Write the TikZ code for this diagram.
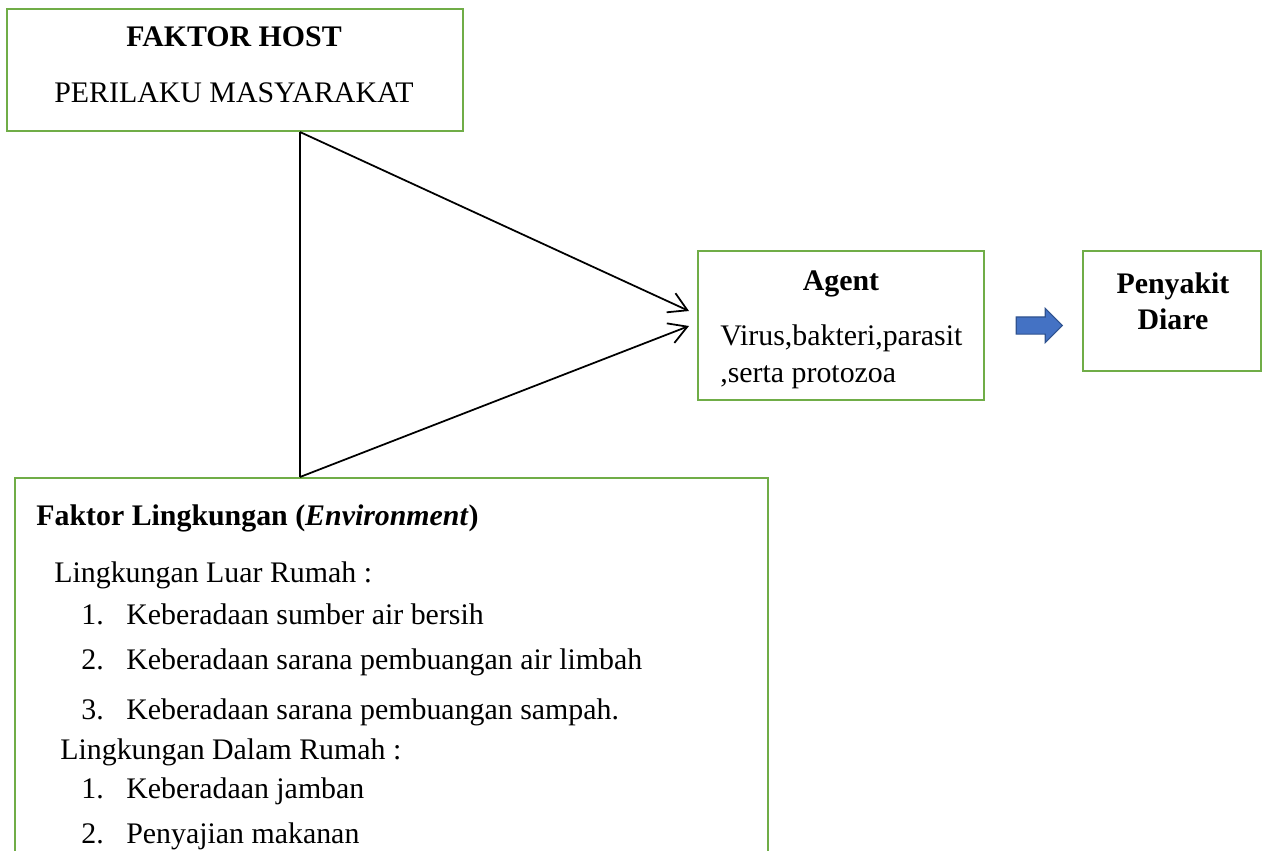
\documentclass[tikz,border=0pt]{standalone}
\usepackage{fontspec}
\setmainfont{Liberation Serif}
\usetikzlibrary{arrows.meta,positioning,shapes.arrows}
\definecolor{boxgreen}{RGB}{112,173,71}
\definecolor{arrowblue}{RGB}{68,114,196}
\definecolor{arrowedge}{RGB}{47,82,143}

\begin{document}
\begin{tikzpicture}[
    x=0.02cm, y=-0.02cm,
    box/.style={draw=boxgreen, line width=1.4pt, inner sep=0pt},
    txt/.style={anchor=base, inner sep=0pt, font=\fontsize{17}{20}\selectfont},
    btxt/.style={txt, font=\fontsize{17}{20}\selectfont\bfseries},
    ltxt/.style={txt, anchor=base west},
    link/.style={line width=1pt},
    >={Straight Barb[length=0.36cm,width=0.42cm]}
  ]
  \useasboundingbox (0,0) rectangle (1262,850);
  \clip (0,0) rectangle (1262,850);

  % boxes
  \node[box, minimum width=9.12cm, minimum height=2.44cm] (host) at (235,70) {};
  \node[box, minimum width=5.72cm, minimum height=2.98cm] (agent) at (841,325.5) {};
  \node[box, minimum width=3.56cm, minimum height=2.4cm] (diare) at (1172,311) {};
  \node[box, minimum width=15.06cm, minimum height=8.6cm] (env) at (391.5,693) {};

  % host
  \node[btxt] (hosttitle) at (234,46) {FAKTOR HOST};
  \node[txt] (hostsub) at (234,102) {PERILAKU MASYARAKAT};

  % agent
  \node[btxt] (agenttitle) at (841,290) {Agent};
  \node[ltxt] (agent1) at (720,345) {Virus,bakteri,parasit};
  \node[ltxt] (agent2) at (720,382) {,serta protozoa};

  % penyakit
  \node[btxt] (diare1) at (1173,293) {Penyakit};
  \node[btxt] (diare2) at (1173,329) {Diare};

  % environment
  \node[ltxt, font=\fontsize{17}{20}\selectfont\bfseries] (envtitle) at (36,525) {Faktor Lingkungan (\textit{Environment})};
  \node[ltxt] (luar) at (54,582) {Lingkungan Luar Rumah :};
  \node[ltxt] (n1) at (81,624) {1.};
  \node[ltxt] (l1) at (126,624) {Keberadaan sumber air bersih};
  \node[ltxt] (n2) at (81,669) {2.};
  \node[ltxt] (l2) at (126,669) {Keberadaan sarana pembuangan air limbah};
  \node[ltxt] (n3) at (81,719) {3.};
  \node[ltxt] (l3) at (126,719) {Keberadaan sarana pembuangan sampah.};
  \node[ltxt] (dalam) at (60,759) {Lingkungan Dalam Rumah :};
  \node[ltxt] (d1n) at (81,798) {1.};
  \node[ltxt] (d1) at (126,798) {Keberadaan jamban};
  \node[ltxt] (d2n) at (81,843) {2.};
  \node[ltxt] (d2) at (126,843) {Penyajian makanan};

  % connectors
  \coordinate (ht) at (300,132);
  \coordinate (eb) at (300,477);
  \coordinate (in1) at (689,311);
  \coordinate (in2) at (689,326);
  \draw[link] (ht) -- (eb);
  \draw[link, ->] (ht) -- (in1);
  \draw[link, ->] (eb) -- (in2);

  \node[single arrow, fill=arrowblue, draw=arrowedge, line width=0.6pt,
        minimum height=0.92cm, minimum width=0.66cm, inner sep=0.16cm,
        single arrow head extend=0.17cm] (blk) at (1035,325.5) {};
\end{tikzpicture}
\end{document}
